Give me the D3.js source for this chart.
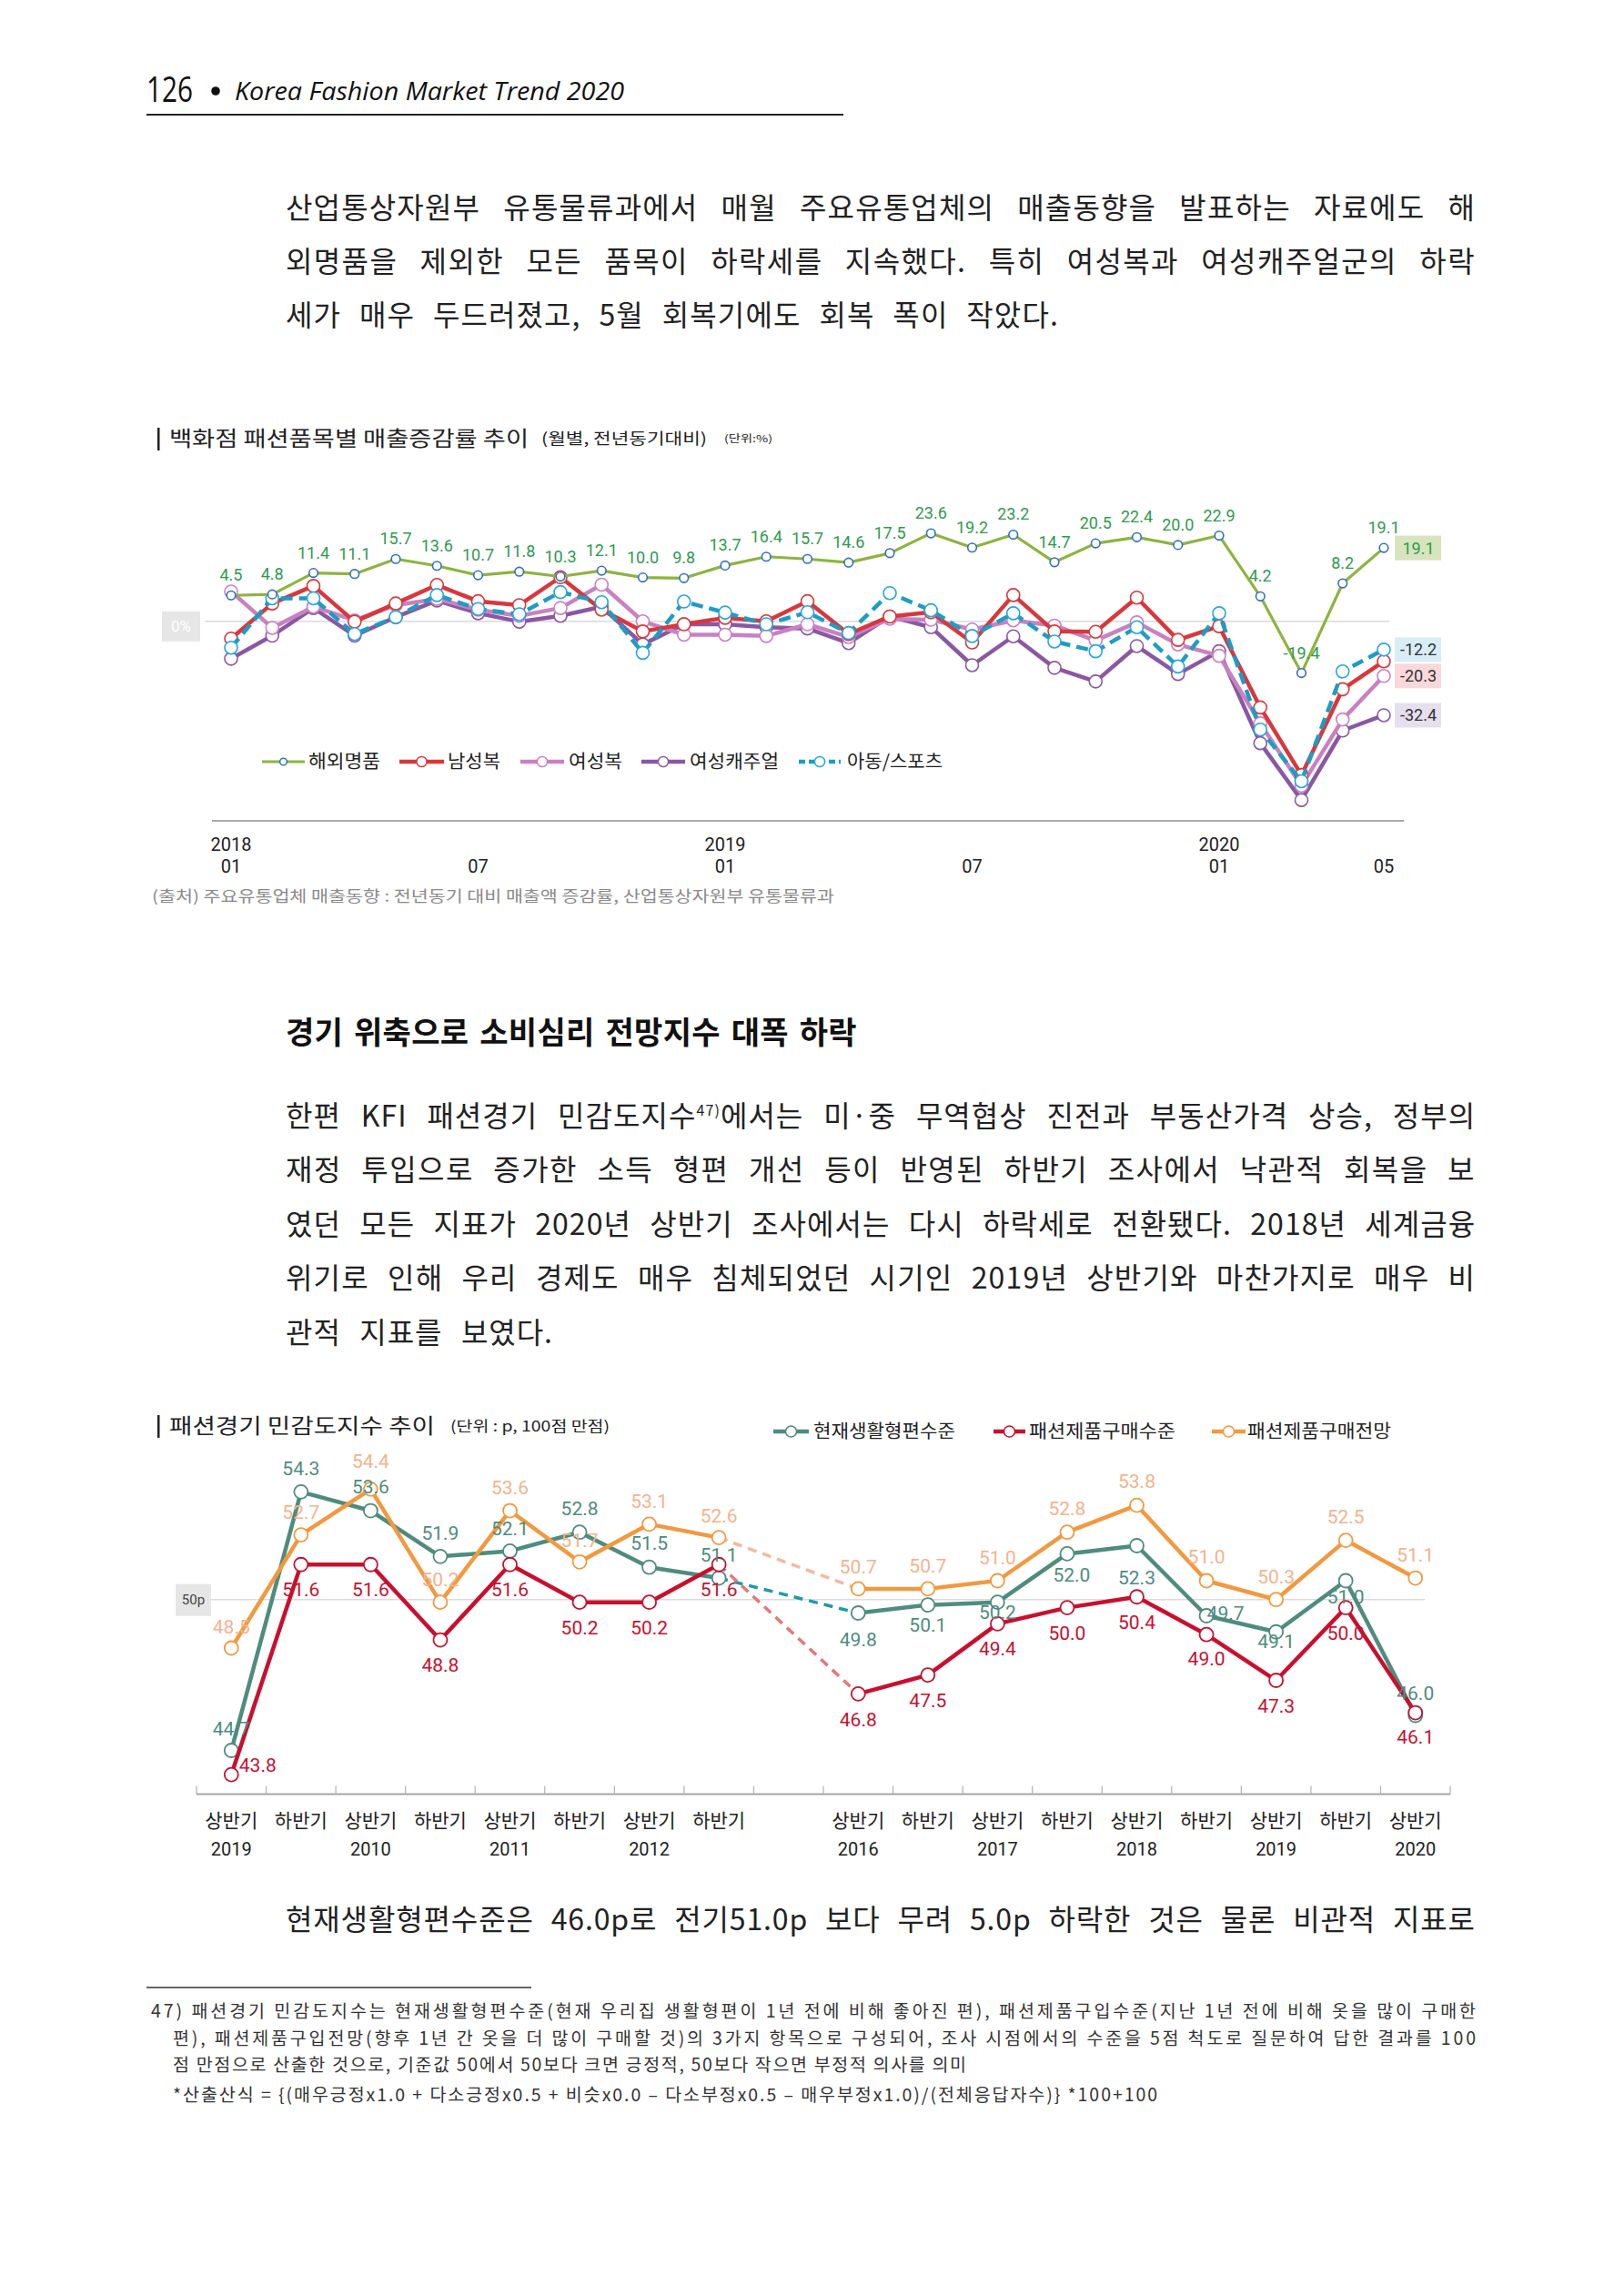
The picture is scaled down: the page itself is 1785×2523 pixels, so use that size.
<!DOCTYPE html>
<html>
<head>
<meta charset="utf-8">
<script src="https://cdn.jsdelivr.net/npm/d3@7"></script>
<style>
  body { margin: 0; background: #fff; }
  svg { display: block; }
</style>
</head>
<body>
<svg id="page"></svg>
<script>
// ---------- data: chart 1 (monthly sales growth, %) ----------
const months = ["2018-01","2018-02","2018-03","2018-04","2018-05","2018-06","2018-07","2018-08","2018-09","2018-10","2018-11","2018-12",
                "2019-01","2019-02","2019-03","2019-04","2019-05","2019-06","2019-07","2019-08","2019-09","2019-10","2019-11","2019-12",
                "2020-01","2020-02","2020-03","2020-04","2020-05"];
const luxury      = [4.5, 4.8, 11.4, 11.1, 15.7, 13.6, 10.7, 11.8, 10.3, 12.1, 10.0, 9.8, 13.7, 16.4, 15.7, 14.6, 17.5, 23.6, 19.2, 23.2, 14.7, 20.5, 22.4, 20.0, 22.9, 4.2, -19.4, 8.2, 19.1];
const menswear    = [-8.8, 2.0, 7.4, -3.6, 2.0, 7.7, 2.7, 1.5, 10.1, 0.1, -6.6, -4.4, -2.4, -3.5, 2.7, -7.4, -2.0, -0.7, -10.0, 4.6, -6.6, -6.7, 3.8, -9.2, -5.0, -30.0, -50.8, -24.4, -15.8];
const womenswear  = [5.7, -5.5, 1.0, -3.2, 1.5, 3.4, 0.1, -1.8, 0.6, 7.8, -3.5, -7.6, -7.6, -8.0, -4.4, -8.3, -2.7, -3.0, -6.0, -3.2, -4.8, -9.4, -3.8, -10.6, -14.1, -34.9, -54.1, -33.7, -20.3];
const womenCasual = [-15.0, -7.9, 0.6, -7.9, -2.2, 2.9, -1.0, -3.6, -1.8, 1.0, -10.6, -4.4, -4.4, -5.3, -5.7, -10.2, -2.0, -5.3, -17.0, -8.1, -17.8, -22.0, -11.1, -19.7, -12.7, -41.0, -58.5, -37.1, -32.4];
const kidsSports  = [-11.6, 3.6, 3.6, -7.4, -2.2, 4.6, 0.3, -1.3, 5.5, 2.4, -13.2, 2.6, -0.8, -4.4, -0.7, -7.1, 5.2, -0.1, -8.0, -1.0, -9.7, -12.7, -5.3, -17.4, -1.0, -36.8, -52.7, -18.9, -12.2];
const seriesNames1 = ["해외명품", "남성복", "여성복", "여성캐주얼", "아동/스포츠"];
const monthTicks = [["2018-01", "2018", "01"], ["2018-07", "", "07"], ["2019-01", "2019", "01"],
                    ["2019-07", "", "07"], ["2020-01", "2020", "01"], ["2020-05", "", "05"]];
const refLine1 = -3.5;   // the grey "0%" guide sits a little below the real zero

// ---------- data: chart 2 (fashion sentiment index, p) ----------
const periods   = ["09H1","09H2","10H1","10H2","11H1","11H2","12H1","12H2","gap",
                   "16H1","16H2","17H1","17H2","18H1","18H2","19H1","19H2","20H1"];
const halfNames = ["상반기","하반기","상반기","하반기","상반기","하반기","상반기","하반기","",
                   "상반기","하반기","상반기","하반기","상반기","하반기","상반기","하반기","상반기"];
const yearNames = ["2019","","2010","","2011","","2012","","",
                   "2016","","2017","","2018","","2019","","2020"];
const livingStd   = [44.7, 54.3, 53.6, 51.9, 52.1, 52.8, 51.5, 51.1, null, 49.8, 50.1, 50.2, 52.0, 52.3, 49.7, 49.1, 51.0, 46.0];
const buyLevel    = [43.8, 51.6, 51.6, 48.8, 51.6, 50.2, 50.2, 51.6, null, 46.8, 47.5, 49.4, 50.0, 50.4, 49.0, 47.3, 50.0, 46.1];
const buyOutlook  = [48.5, 52.7, 54.4, 50.2, 53.6, 51.7, 53.1, 52.6, null, 50.7, 50.7, 51.0, 52.8, 53.8, 51.0, 50.3, 52.5, 51.1];
const seriesNames2 = ["현재생활형편수준", "패션제품구매수준", "패션제품구매전망"];
const refLine2 = 50.3;

// ---------- page text ----------
const para1 = [
  ["산업통상자원부 유통물류과에서 매월 주요유통업체의 매출동향을 발표하는 자료에도 해"],
  ["외명품을 제외한 모든 품목이 하락세를 지속했다. 특히 여성복과 여성캐주얼군의 하락"],
  ["세가 매우 두드러졌고, 5월 회복기에도 회복 폭이 작았다."]
];
const heading = "경기 위축으로 소비심리 전망지수 대폭 하락";
const para2 = [
  ["한편 KFI 패션경기 민감도지수", {sup: "47)"}, "에서는 미·중 무역협상 진전과 부동산가격 상승, 정부의"],
  ["재정 투입으로 증가한 소득 형편 개선 등이 반영된 하반기 조사에서 낙관적 회복을 보"],
  ["였던 모든 지표가 2020년 상반기 조사에서는 다시 하락세로 전환됐다. 2018년 세계금융"],
  ["위기로 인해 우리 경제도 매우 침체되었던 시기인 2019년 상반기와 마찬가지로 매우 비"],
  ["관적 지표를 보였다."]
];
const para3 = [["현재생활형편수준은 46.0p로 전기51.0p 보다 무려 5.0p 하락한 것은 물론 비관적 지표로"]];
const footnotes = [
  "47) 패션경기 민감도지수는 현재생활형편수준(현재 우리집 생활형편이 1년 전에 비해 좋아진 편), 패션제품구입수준(지난 1년 전에 비해 옷을 많이 구매한",
  "편), 패션제품구입전망(향후 1년 간 옷을 더 많이 구매할 것)의 3가지 항목으로 구성되어, 조사 시점에서의 수준을 5점 척도로 질문하여 답한 결과를 100",
  "점 만점으로 산출한 것으로, 기준값 50에서 50보다 크면 긍정적, 50보다 작으면 부정적 의사를 의미",
  "*산출산식 = {(매우긍정x1.0 + 다소긍정x0.5 + 비슷x0.0 – 다소부정x0.5 – 매우부정x1.0)/(전체응답자수)} *100+100"
];

// ---------- setup ----------
const W = 1785, H = 2523;
const KR = "'Noto Sans CJK KR', 'Noto Sans', sans-serif";
const NUM = "Roboto, 'Noto Sans', sans-serif";

const svg = d3.select("#page").attr("width", W).attr("height", H);
svg.append("rect").attr("width", W).attr("height", H).attr("fill", "#fff");

// ---------- header ----------
svg.append("text").attr("x", 161).attr("y", 112)
  .attr("font-family", "'Open Sans', sans-serif").attr("font-size", 38).attr("fill", "#111")
  .attr("textLength", 51).attr("lengthAdjust", "spacingAndGlyphs").text("126");
svg.append("circle").attr("cx", 237).attr("cy", 100).attr("r", 4.8).attr("fill", "#111");
svg.append("text").attr("x", 258).attr("y", 110)
  .attr("font-family", "'Open Sans', sans-serif").attr("font-style", "italic").attr("font-size", 27).attr("fill", "#111")
  .attr("textLength", 428).attr("lengthAdjust", "spacingAndGlyphs").text("Korea Fashion Market Trend 2020");
svg.append("line").attr("x1", 161).attr("x2", 927).attr("y1", 126).attr("y2", 126)
  .attr("stroke", "#222").attr("stroke-width", 2);

// ---------- body text helper ----------
// builds one line; if width is given the extra room is shared between
// letter gaps and (mostly) word gaps, like the justified print
function textLine(parts, x, y, size, width, opts = {}) {
  const t = svg.append("text").attr("x", x).attr("y", y)
    .attr("font-family", opts.family || KR).attr("font-size", size)
    .attr("font-weight", opts.weight || 400).attr("fill", opts.fill || "#222");
  let raised = false;
  parts.forEach(p => {
    if (typeof p === "string") {
      t.append("tspan").attr("dy", raised ? size * 0.38 : null).text(p);
      raised = false;
    } else {
      t.append("tspan").attr("dy", -size * 0.38).attr("font-size", size * 0.5).text(p.sup);
      raised = true;
    }
  });
  if (width) {
    if (opts.letters) {
      t.attr("textLength", width).attr("lengthAdjust", "spacing");
    } else {
      const natural = t.node().getComputedTextLength();
      const txt = t.node().textContent;
      const gaps = (txt.match(/ /g) || []).length;
      const extra = width - natural;
      const ls = extra > 0 ? (extra * 0.3) / txt.length : 0;
      const ws = gaps ? (extra - ls * txt.length) / gaps : 0;
      t.attr("letter-spacing", ls.toFixed(2)).attr("word-spacing", ws.toFixed(2));
    }
  }
  return t;
}

const bodyX = 314, bodyR = 1622, bodySize = 32;
const para1Y = [240, 299, 358];
const para1W = [bodyR - bodyX, bodyR - bodyX, 850];
para1.forEach((ln, i) => textLine(ln, bodyX, para1Y[i], bodySize, para1W[i]));

textLine([heading], bodyX, 1147, 34, 628, {weight: 700, fill: "#111"});

const para2Y = [1238, 1297, 1357, 1416, 1476];
const para2W = [bodyR - bodyX, bodyR - bodyX, bodyR - bodyX, bodyR - bodyX, 294];
para2.forEach((ln, i) => textLine(ln, bodyX, para2Y[i], bodySize, para2W[i]));

para3.forEach(ln => textLine(ln, bodyX, 2121, bodySize, bodyR - bodyX));

// footnotes
svg.append("line").attr("x1", 161).attr("x2", 584).attr("y1", 2184).attr("y2", 2184)
  .attr("stroke", "#333").attr("stroke-width", 1.5);
const fnX = [166, 190, 190, 190];
const fnY = [2217, 2247, 2276, 2309];
const fnW = [1456, 1432, 872, 1082];
footnotes.forEach((s, i) => textLine([s], fnX[i], fnY[i], 19.5, fnW[i], {fill: "#333", letters: true}));

// ---------- chart title helper ----------
function chartTitle(y, title, titleW, sub, subX, subW, subSize, unit) {
  svg.append("rect").attr("x", 173).attr("y", y - 20).attr("width", 2.5).attr("height", 25).attr("fill", "#222");
  svg.append("text").attr("x", 186).attr("y", y).attr("font-family", KR).attr("font-size", 23).attr("fill", "#222")
    .attr("textLength", titleW).attr("lengthAdjust", "spacingAndGlyphs").text(title);
  svg.append("text").attr("x", subX).attr("y", y - 2).attr("font-family", KR).attr("font-size", subSize).attr("fill", "#222")
    .attr("textLength", subW).attr("lengthAdjust", "spacingAndGlyphs").text(sub);
  if (unit) {
    svg.append("text").attr("x", unit.x).attr("y", y - 4).attr("font-family", KR).attr("font-size", 11).attr("fill", "#222")
      .attr("textLength", unit.w).attr("lengthAdjust", "spacingAndGlyphs").text(unit.text);
  }
}

// ================= CHART 1 =================
chartTitle(490, "백화점 패션품목별 매출증감률 추이", 395, "(월별, 전년동기대비)", 595, 182, 17, {x: 796, w: 53, text: "(단위:%)"});

const x1 = d3.scalePoint().domain(months).range([254, 1521]);
const y1 = d3.scaleLinear().domain([-60, 25]).range([884.5, 581.05]);

const chart1 = svg.append("g");

// grey guide line with 0% tag
chart1.append("line").attr("x1", 225).attr("x2", 1527)
  .attr("y1", y1(refLine1)).attr("y2", y1(refLine1)).attr("stroke", "#d9d9d9").attr("stroke-width", 1.5);
chart1.append("rect").attr("x", 178).attr("y", y1(refLine1) - 11).attr("width", 42).attr("height", 33).attr("fill", "#e6e6e6");
chart1.append("text").attr("x", 199).attr("y", y1(refLine1) + 11).attr("text-anchor", "middle")
  .attr("font-family", NUM).attr("font-size", 17).attr("fill", "#fff").text("0%");

// x axis
chart1.append("line").attr("x1", 233).attr("x2", 1543).attr("y1", 902).attr("y2", 902)
  .attr("stroke", "#aaa").attr("stroke-width", 2);
monthTicks.forEach(([m, yr, mo]) => {
  if (yr) chart1.append("text").attr("x", x1(m)).attr("y", 935).attr("text-anchor", "middle")
    .attr("font-family", NUM).attr("font-size", 20).attr("fill", "#222").text(yr);
  chart1.append("text").attr("x", x1(m)).attr("y", 959).attr("text-anchor", "middle")
    .attr("font-family", NUM).attr("font-size", 20).attr("fill", "#222").text(mo);
});

const series1 = [
  {name: seriesNames1[3], values: womenCasual, color: "#8a58a2", mark: "#8a58a2", width: 4.5, r: 7},
  {name: seriesNames1[2], values: womenswear,  color: "#c981c2", mark: "#c981c2", width: 4.5, r: 7},
  {name: seriesNames1[1], values: menswear,    color: "#d8383c", mark: "#d8383c", width: 4.5, r: 7},
  {name: seriesNames1[4], values: kidsSports,  color: "#1d9dc3", mark: "#27a6de", width: 4.5, r: 7, dash: "13,7"},
  {name: seriesNames1[0], values: luxury,      color: "#8db43f", mark: "#2f6fc0", width: 3.2, r: 4.8}
];

const line1 = d3.line().x((d, i) => x1(months[i])).y(d => y1(d));

series1.forEach(s => {
  chart1.append("path").datum(s.values).attr("d", line1).attr("fill", "none")
    .attr("stroke", s.color).attr("stroke-width", s.width).attr("stroke-linejoin", "round")
    .attr("stroke-dasharray", s.dash || null);
  chart1.selectAll(null).data(s.values).enter().append("circle")
    .attr("cx", (d, i) => x1(months[i])).attr("cy", d => y1(d)).attr("r", s.r)
    .attr("fill", "#fff").attr("stroke", s.mark).attr("stroke-width", 1.6);
});

// luxury value labels
chart1.selectAll(null).data(luxury).enter().append("text")
  .attr("x", (d, i) => x1(months[i])).attr("y", d => y1(d) - 16)
  .attr("text-anchor", "middle").attr("font-family", NUM).attr("font-size", 18).attr("fill", "#2f9a4e")
  .text(d => d.toFixed(1));

// end-of-line tags
const endTags = [
  {values: luxury, bg: "#d7e4bd", fg: "#2f9a4e"},
  {values: kidsSports, bg: "#d9edf7", fg: "#333"},
  {values: womenswear, bg: "#f8d8da", fg: "#333"},
  {values: womenCasual, bg: "#e5dfee", fg: "#333"}
];
endTags.forEach(t => {
  const v = t.values[t.values.length - 1];
  const cy = y1(v);
  chart1.append("rect").attr("x", 1533).attr("y", cy - 13.5).attr("width", 51).attr("height", 27).attr("fill", t.bg);
  chart1.append("text").attr("x", 1559).attr("y", cy + 6.5).attr("text-anchor", "middle")
    .attr("font-family", NUM).attr("font-size", 18).attr("fill", t.fg).text(v.toFixed(1));
});

// legend chart 1
const legend1 = [
  {s: series1[4], x0: 288, x1: 335, tx: 339, tw: 79},
  {s: series1[2], x0: 439, x1: 488, tx: 492, tw: 58},
  {s: series1[1], x0: 572, x1: 620, tx: 625, tw: 59},
  {s: series1[0], x0: 705, x1: 753, tx: 758, tw: 98},
  {s: series1[3], x0: 878, x1: 924, tx: 931, tw: 105}
];
legend1.forEach(l => {
  const g = chart1.append("g");
  g.append("line").attr("x1", l.x0).attr("x2", l.x1).attr("y1", 837).attr("y2", 837)
    .attr("stroke", l.s.color).attr("stroke-width", l.s.width).attr("stroke-dasharray", l.s.dash ? "7,4" : null);
  g.append("circle").attr("cx", (l.x0 + l.x1) / 2).attr("cy", 837).attr("r", l.s.r * 0.8)
    .attr("fill", "#fff").attr("stroke", l.s.mark).attr("stroke-width", 1.5);
  g.append("text").attr("x", l.tx).attr("y", 844).attr("font-family", KR).attr("font-size", 20).attr("fill", "#222")
    .attr("textLength", l.tw).attr("lengthAdjust", "spacingAndGlyphs").text(l.s.name);
});

// source
svg.append("text").attr("x", 167).attr("y", 991).attr("font-family", KR).attr("font-size", 17).attr("fill", "#8a8a8a")
  .attr("textLength", 750).attr("lengthAdjust", "spacingAndGlyphs")
  .text("(출처) 주요유통업체 매출동향 : 전년동기 대비 매출액 증감률, 산업통상자원부 유통물류과");

// ================= CHART 2 =================
chartTitle(1575, "패션경기 민감도지수 추이", 292, "(단위 : p, 100점 만점)", 495, 175, 16);

const x2 = d3.scaleBand().domain(periods).range([216, 1594]);
const y2 = d3.scaleLinear().domain([43, 55]).range([1973.8, 1618.6]);
const cx2 = p => x2(p) + x2.bandwidth() / 2;

const chart2 = svg.append("g");

chart2.append("line").attr("x1", 232).attr("x2", 1566).attr("y1", y2(refLine2)).attr("y2", y2(refLine2))
  .attr("stroke", "#dcdcdc").attr("stroke-width", 1.5);
chart2.append("rect").attr("x", 193).attr("y", y2(refLine2) - 17).attr("width", 39).attr("height", 35).attr("fill", "#e6e6e6");
chart2.append("text").attr("x", 212.5).attr("y", y2(refLine2) + 5).attr("text-anchor", "middle")
  .attr("font-family", NUM).attr("font-size", 15).attr("fill", "#444").text("50p");

// x axis with upward ticks at band edges
const axisY = 1971.5;
chart2.append("line").attr("x1", 216).attr("x2", 1594).attr("y1", axisY).attr("y2", axisY)
  .attr("stroke", "#a6a6a6").attr("stroke-width", 2);
const edges = periods.map(p => x2(p)).concat([x2.range()[1]]);
chart2.selectAll(null).data(edges).enter().append("line")
  .attr("x1", d => d).attr("x2", d => d).attr("y1", axisY - 9).attr("y2", axisY)
  .attr("stroke", "#b3b3b3").attr("stroke-width", 1.2);
periods.forEach((p, i) => {
  if (halfNames[i]) chart2.append("text").attr("x", cx2(p)).attr("y", 2008).attr("text-anchor", "middle")
    .attr("font-family", KR).attr("font-size", 21).attr("fill", "#222").text(halfNames[i]);
  if (yearNames[i]) chart2.append("text").attr("x", cx2(p)).attr("y", 2039).attr("text-anchor", "middle")
    .attr("font-family", NUM).attr("font-size", 20).attr("fill", "#222").text(yearNames[i]);
});

const series2 = [
  {name: seriesNames2[0], values: livingStd,  color: "#4e8c7e", dashColor: "#1f9aa6", label: "#4e8c7e",
   dy: [-23, -25, -26, -25, -24, -26, -26, -25, 0, 29, 22, 11, 24, 35, -2, 11, 18, -24],
   dx: [0, 0, 0, 0, 0, 0, 0, 0, 0, 0, 0, 0, 5, 0, 21, 0, 0, 0]},
  {name: seriesNames2[2], values: buyOutlook, color: "#f2993f", dashColor: "#f6b99d", label: "#f4b38c",
   dy: [-23, -25, -30, -25, -25, -23, -25, -24, 0, -24, -25, -25, -26, -26, -26, -25, -26, -25],
   dx: new Array(18).fill(0)},
  {name: seriesNames2[1], values: buyLevel,   color: "#c8102e", dashColor: "#e67878", label: "#c8102e",
   dy: [-10, 28, 28, 28, 28, 28, 28, 28, 0, 29, 28, 28, 28, 28, 27, 28, 28, 27],
   dx: [29, 0, 0, 0, 0, 0, 0, 0, 0, 0, 0, 0, 0, 0, 0, 0, 0, 0]}
];

const line2 = d3.line().defined(d => d != null).x((d, i) => cx2(periods[i])).y(d => y2(d));

series2.forEach(s => {
  // dashed bridge across the missing years
  const before = 7, after = 9;
  chart2.append("line")
    .attr("x1", cx2(periods[before])).attr("y1", y2(s.values[before]))
    .attr("x2", cx2(periods[after])).attr("y2", y2(s.values[after]))
    .attr("stroke", s.dashColor).attr("stroke-width", 3.5).attr("stroke-dasharray", "10,7");
});
series2.forEach(s => {
  chart2.append("path").datum(s.values).attr("d", line2).attr("fill", "none")
    .attr("stroke", s.color).attr("stroke-width", 4.5).attr("stroke-linejoin", "round");
  chart2.selectAll(null).data(s.values.map((v, i) => ({v, i})).filter(d => d.v != null)).enter().append("circle")
    .attr("cx", d => cx2(periods[d.i])).attr("cy", d => y2(d.v)).attr("r", 7.5)
    .attr("fill", "#fff").attr("stroke", s.color).attr("stroke-width", 1.8);
});
series2.forEach(s => {
  chart2.selectAll(null).data(s.values.map((v, i) => ({v, i})).filter(d => d.v != null)).enter().append("text")
    .attr("x", d => cx2(periods[d.i]) + s.dx[d.i]).attr("y", d => y2(d.v) + s.dy[d.i] + 7)
    .attr("text-anchor", "middle").attr("font-family", NUM).attr("font-size", 21).attr("fill", s.label)
    .text(d => d.v.toFixed(1));
});

// legend chart 2
const legend2 = [
  {s: series2[0], x0: 850, x1: 889, tx: 894, tw: 156},
  {s: series2[2], x0: 1092, x1: 1127, tx: 1131, tw: 161},
  {s: series2[1], x0: 1332, x1: 1369, tx: 1371, tw: 158}
];
legend2.forEach(l => {
  chart2.append("line").attr("x1", l.x0).attr("x2", l.x1).attr("y1", 1573).attr("y2", 1573)
    .attr("stroke", l.s.color).attr("stroke-width", 4.5);
  chart2.append("circle").attr("cx", (l.x0 + l.x1) / 2).attr("cy", 1573).attr("r", 6)
    .attr("fill", "#fff").attr("stroke", l.s.color).attr("stroke-width", 1.5);
  chart2.append("text").attr("x", l.tx).attr("y", 1580).attr("font-family", KR).attr("font-size", 20).attr("fill", "#222")
    .attr("textLength", l.tw).attr("lengthAdjust", "spacingAndGlyphs").text(l.s.name);
});
</script>
</body>
</html>
